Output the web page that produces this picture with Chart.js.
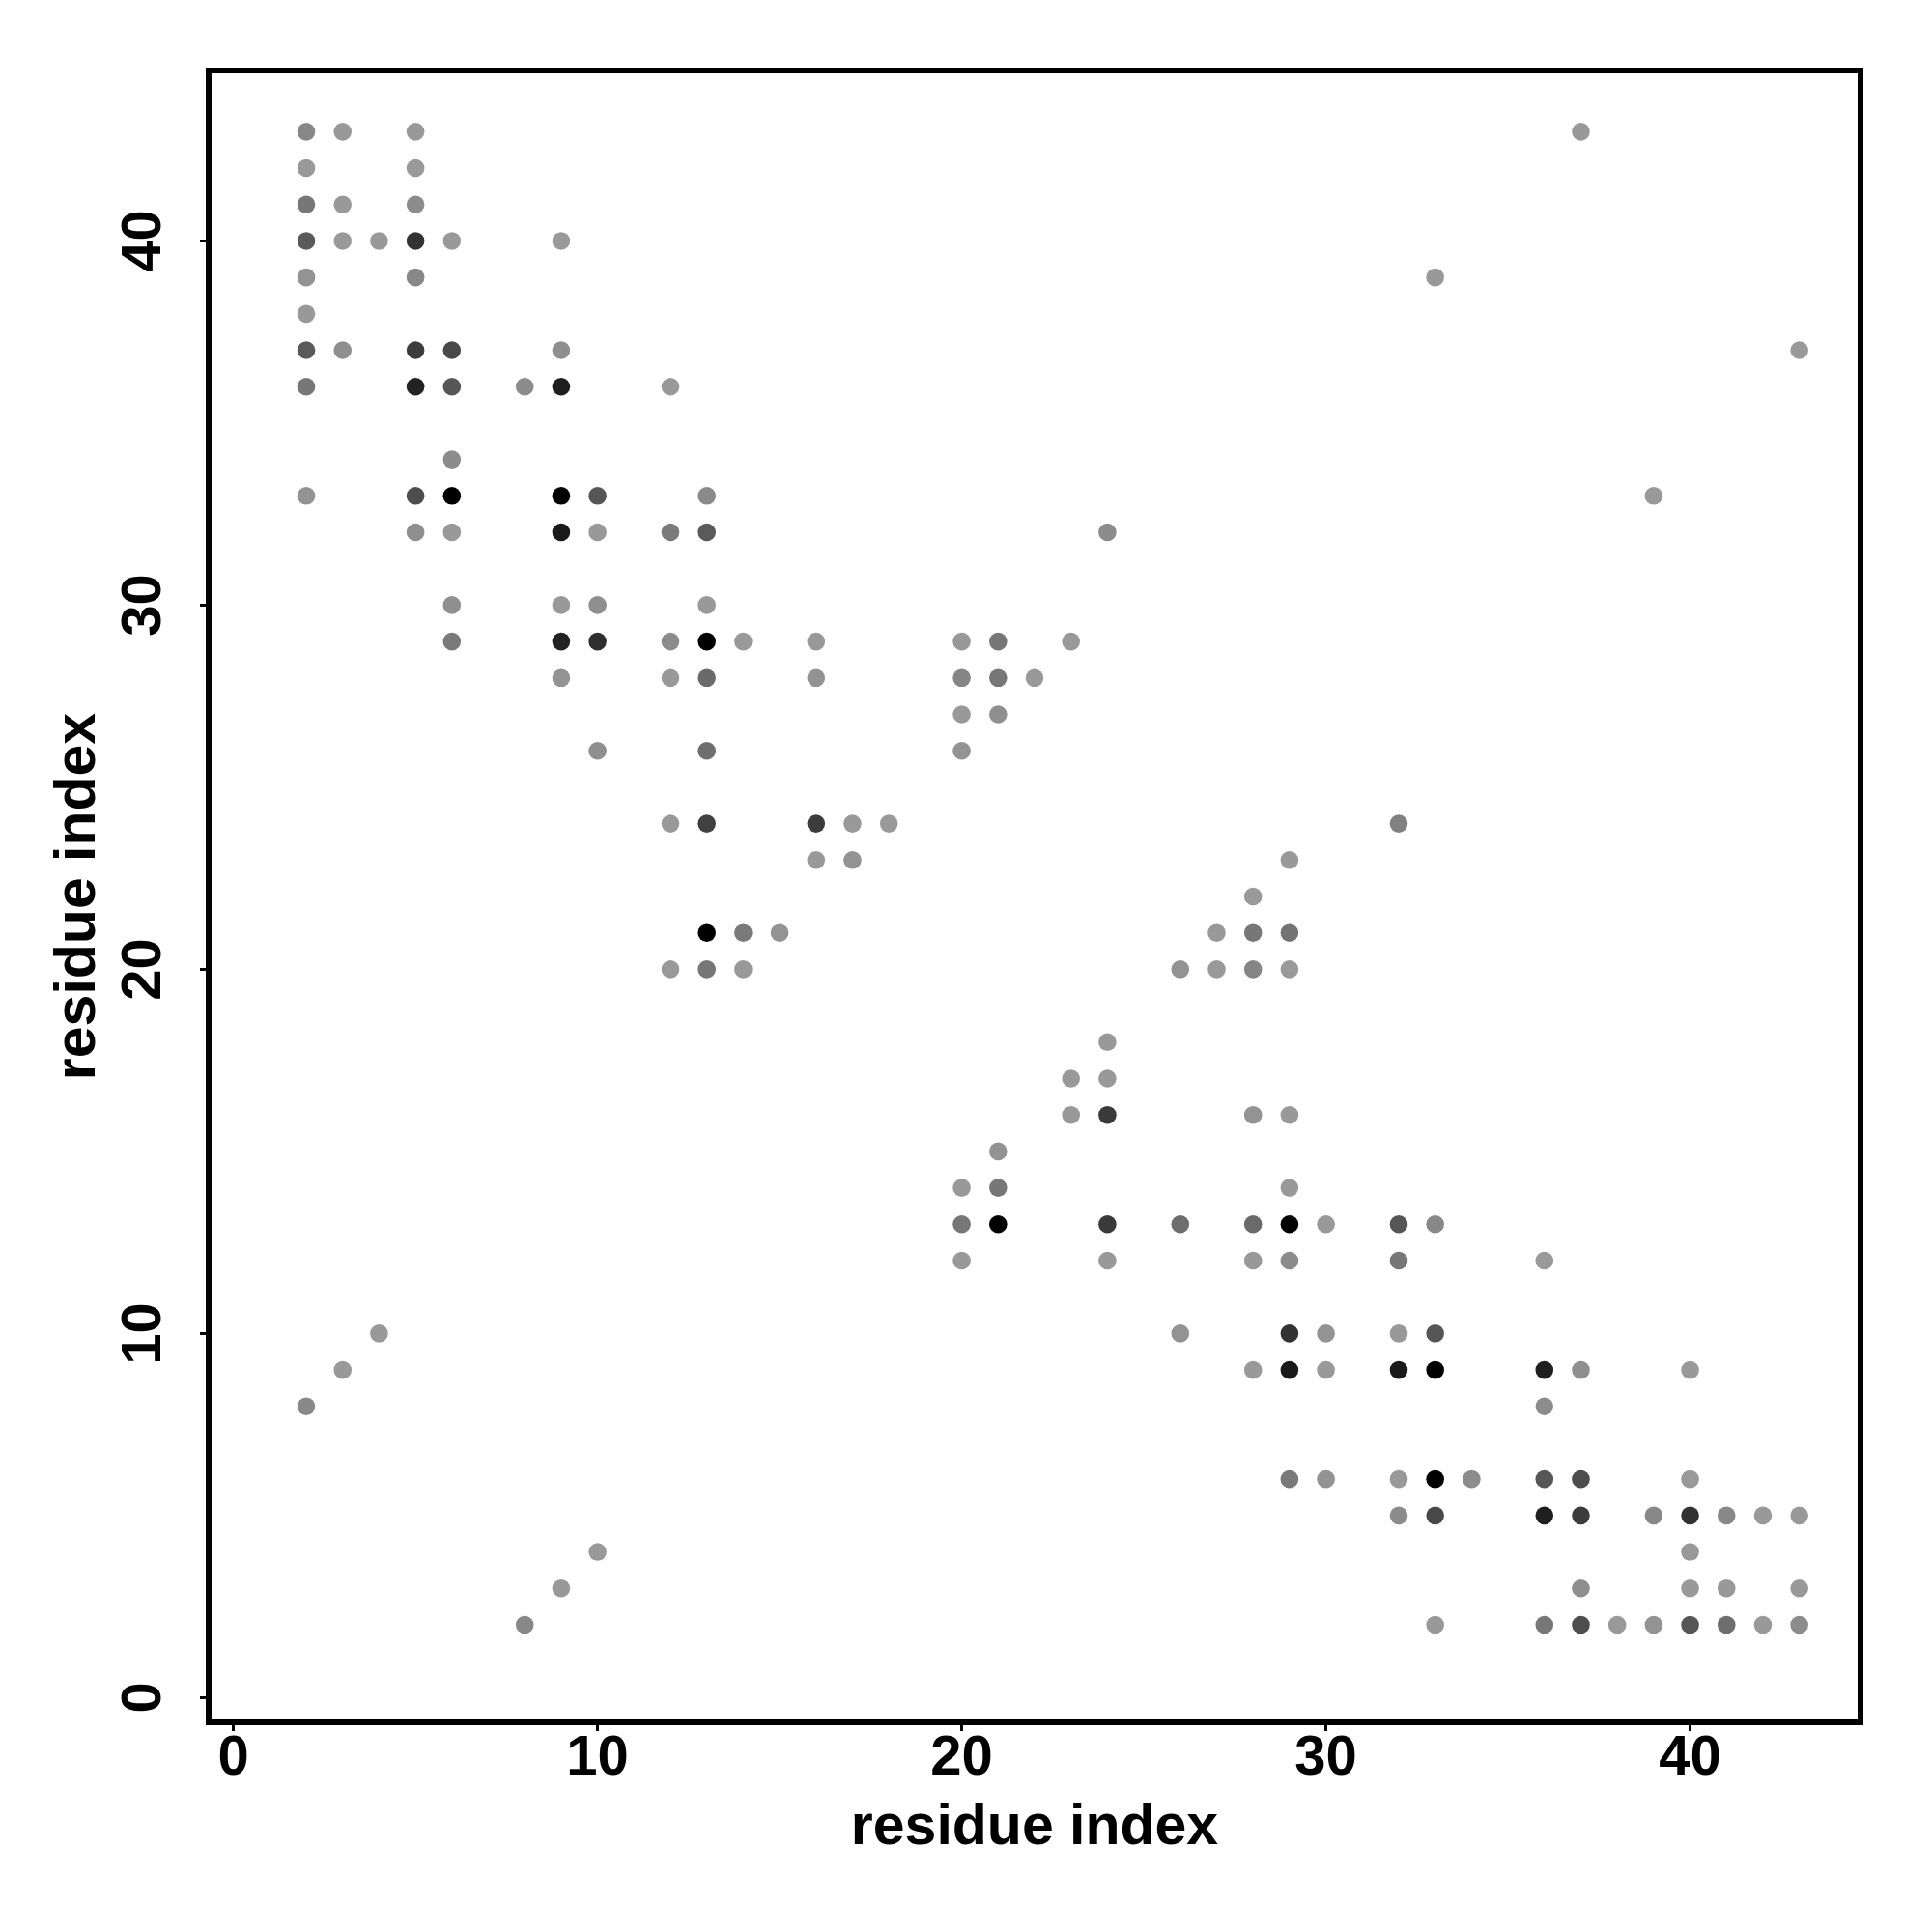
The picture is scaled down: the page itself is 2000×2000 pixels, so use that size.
<!DOCTYPE html>
<html>
<head>
<meta charset="utf-8">
<script src="https://cdn.jsdelivr.net/npm/chart.js@4.4.1/dist/chart.umd.min.js"></script>
<style>
  html, body { margin: 0; padding: 0; background: #ffffff; }
  #wrap { width: 2000px; height: 2000px; }
</style>
</head>
<body>
<div id="wrap"><canvas id="c" width="2000" height="2000"></canvas></div>
<script>
// ---- data ----
const residueX = [
  2,3,5,37,
  2,5,
  2,3,5,
  2,3,4,5,6,9,
  2,5,33,
  2,
  2,3,5,6,9,43,
  2,5,6,8,9,12,
  6,
  2,5,6,9,10,13,39,
  5,6,9,10,12,13,24,
  6,9,10,13,
  6,9,10,12,13,14,16,20,21,23,
  9,12,13,16,20,21,22,
  20,21,
  10,13,20,
  12,13,16,17,18,32,
  16,17,29,
  28,
  13,14,15,27,28,29,
  12,13,14,26,27,28,29,
  24,
  23,24,
  23,24,28,29,
  21,
  20,21,29,
  20,21,24,26,28,29,30,32,33,
  20,24,28,29,32,36,
  4,26,29,30,32,33,
  3,28,29,30,32,33,36,37,40,
  2,36,
  29,30,32,33,34,36,37,40,
  32,33,36,37,39,40,41,42,43,
  10,40,
  9,37,40,41,43,
  8,33,36,37,38,39,40,41,42,43
];
const residueY = [
  43,43,43,43,
  42,42,
  41,41,41,
  40,40,40,40,40,40,
  39,39,39,
  38,
  37,37,37,37,37,37,
  36,36,36,36,36,36,
  34,
  33,33,33,33,33,33,33,
  32,32,32,32,32,32,32,
  30,30,30,30,
  29,29,29,29,29,29,29,29,29,29,
  28,28,28,28,28,28,28,
  27,27,
  26,26,26,
  24,24,24,24,24,24,
  23,23,23,
  22,
  21,21,21,21,21,21,
  20,20,20,20,20,20,20,
  18,
  17,17,
  16,16,16,16,
  15,
  14,14,14,
  13,13,13,13,13,13,13,13,13,
  12,12,12,12,12,12,
  10,10,10,10,10,10,
  9,9,9,9,9,9,9,9,9,
  8,8,
  6,6,6,6,6,6,6,6,
  5,5,5,5,5,5,5,5,5,
  4,4,
  3,3,3,3,3,
  2,2,2,2,2,2,2,2,2,2
];
// contact strength: 0 = weakest (light grey) ... 1 = strongest (black)
const contactScore = [
  0.11,0,0,0,
  0,0,
  0.22,0,0.085,
  0.41,0,0,0.67,0,0,
  0.04,0.11,0,
  0,
  0.41,0.065,0.61,0.52,0.065,0,
  0.22,0.78,0.44,0.085,0.8,0,
  0.085,
  0.04,0.5,1,1,0.44,0.1,0,
  0.065,0,0.83,0,0.2,0.41,0.085,
  0.065,0,0.065,0,
  0.2,0.78,0.7,0.085,1,0,0,0,0.22,0,
  0.04,0,0.31,0.04,0.13,0.22,0,
  0,0.065,
  0.065,0.28,0.04,
  0,0.58,0.61,0,0,0.16,
  0,0.04,0,
  0,
  1,0.2,0.04,0,0.22,0.25,
  0,0.22,0,0.04,0,0.13,0,
  0,
  0,0,
  0,0.62,0.04,0,
  0.04,
  0,0.22,0,
  0.22,1,0.62,0.28,0.31,1,0,0.44,0.11,
  0,0,0,0.085,0.22,0,
  0,0.04,0.67,0.04,0,0.44,
  0,0,0.83,0,0.83,1,0.8,0.065,0,
  0.11,0.085,
  0.2,0.04,0,1,0.085,0.44,0.5,0,
  0.085,0.52,0.8,0.61,0.11,0.67,0.11,0,0,
  0,0,
  0,0.065,0,0,0,
  0.11,0,0.22,0.5,0,0.04,0.44,0.28,0,0.085
];
const xTickValues = [0, 10, 20, 30, 40];
const yTickValues = [0, 10, 20, 30, 40];
const xAxisTitle = 'residue index';
const yAxisTitle = 'residue index';

// ---- build the chart ----
function scoreToGrey(s) {
  const g = Math.round(153 * (1 - s));
  return 'rgb(' + g + ',' + g + ',' + g + ')';
}
const points = residueX.map((x, i) => ({ x: x, y: residueY[i] }));
const colours = contactScore.map(scoreToGrey);

const FONT = '"Liberation Sans", Arial, Helvetica, sans-serif';

const framePlugin = {
  id: 'frame',
  afterDraw(chart) {
    const a = chart.chartArea;
    const ctx = chart.ctx;
    ctx.save();
    ctx.strokeStyle = '#000';
    ctx.lineWidth = 6;
    ctx.strokeRect(a.left, a.top, a.right - a.left, a.bottom - a.top);
    ctx.restore();
  }
};

new Chart(document.getElementById('c'), {
  type: 'scatter',
  data: {
    datasets: [{
      data: points,
      pointBackgroundColor: colours,
      pointBorderWidth: 0,
      pointBorderColor: 'rgba(0,0,0,0)',
      pointRadius: 9.3,
      pointHoverRadius: 9.3,
      showLine: false
    }]
  },
  options: {
    responsive: false,
    devicePixelRatio: 1,
    animation: false,
    events: [],
    layout: { padding: { top: 73, right: 74, left: 0, bottom: 0 } },
    plugins: { legend: { display: false }, tooltip: { enabled: false } },
    scales: {
      x: {
        type: 'linear',
        position: 'bottom',
        min: -0.68,
        max: 44.68,
        afterBuildTicks(scale) { scale.ticks = xTickValues.map(v => ({ value: v })); },
        afterFit(scale) { scale.height = 217; },
        grid: { display: true, drawOnChartArea: false, drawTicks: true, tickLength: 9, lineWidth: 3, color: '#000' },
        border: { display: false },
        ticks: {
          color: '#000',
          font: { family: FONT, size: 58, weight: 'bold', lineHeight: 1.2 },
          padding: -6,
          maxRotation: 0,
          minRotation: 0
        },
        title: {
          display: true,
          text: xAxisTitle,
          color: '#000',
          font: { family: FONT, size: 59, weight: 'bold', lineHeight: 1.2 },
          padding: { top: 0, bottom: 72 }
        }
      },
      y: {
        type: 'linear',
        position: 'left',
        min: -0.68,
        max: 44.68,
        afterBuildTicks(scale) { scale.ticks = yTickValues.map(v => ({ value: v })); },
        afterFit(scale) { scale.width = 216; },
        grid: { display: true, drawOnChartArea: false, drawTicks: true, tickLength: 9, lineWidth: 3, color: '#000' },
        border: { display: false },
        ticks: {
          color: '#000',
          font: { family: FONT, size: 58, weight: 'bold', lineHeight: 1.2 },
          padding: 25,
          minRotation: 90,
          maxRotation: 90,
          crossAlign: 'center'
        },
        title: {
          display: true,
          text: yAxisTitle,
          color: '#000',
          font: { family: FONT, size: 59, weight: 'bold', lineHeight: 1.2 },
          padding: { top: 46, bottom: 0 }
        }
      }
    }
  },
  plugins: [framePlugin]
});
</script>
</body>
</html>
